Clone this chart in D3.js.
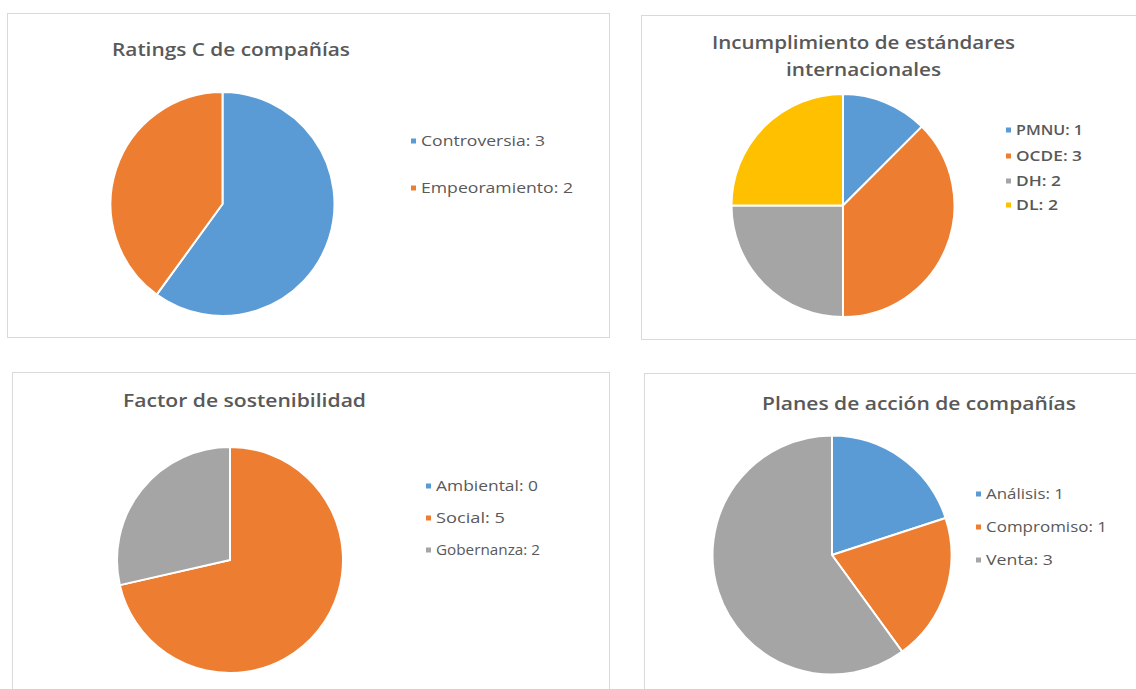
<!DOCTYPE html>
<html><head><meta charset="utf-8">
<script src="https://cdn.jsdelivr.net/npm/d3@7"></script>
<style>body{margin:0;background:#fff;}svg{display:block;}</style>
</head><body>
<svg id="c" width="1136" height="689"></svg>
<script>
// Chart 1
const ratingsLabels = ["Controversia", "Empeoramiento"];
const ratingsValues = [3, 2];
// Chart 2
const estandaresLabels = ["PMNU", "OCDE", "DH", "DL"];
const estandaresValues = [1, 3, 2, 2];
// Chart 3
const factorLabels = ["Ambiental", "Social", "Gobernanza"];
const factorValues = [0, 5, 2];
// Chart 4
const planesLabels = ["Análisis", "Compromiso", "Venta"];
const planesValues = [1, 1, 3];

const titles = [
  ["Ratings C de compañías"],
  ["Incumplimiento de estándares", "internacionales"],
  ["Factor de sostenibilidad"],
  ["Planes de acción de compañías"]
];

const palette = ["#5B9BD5", "#ED7D31", "#A5A5A5", "#FFC000"];

const panels = [
  {labels: ratingsLabels, values: ratingsValues, title: titles[0],
   box: [7, 13, 602, 324], cx: 222.5, cy: 204, r: 112, tx: 231, ty: [56], tw: [238],
   lx: 411, ly: [141, 188], lw: [124, 152], lweight: 500},
  {labels: estandaresLabels, values: estandaresValues, title: titles[1],
   box: [641, 15, 520, 324], cx: 843, cy: 205.5, r: 111.5, tx: 863.5, ty: [49, 76], tw: [303, 155],
   lx: 1006, ly: [130, 156, 181, 205], lw: [67, 66, 45, 42], lweight: 600},
  {labels: factorLabels, values: factorValues, title: titles[2],
   box: [12, 372, 597, 340], cx: 230, cy: 560, r: 113, tx: 244.5, ty: [407], tw: [243],
   lx: 426, ly: [486, 518, 550], lw: [102, 69, 104], lweight: 500},
  {labels: planesLabels, values: planesValues, title: titles[3],
   box: [644, 373, 520, 340], cx: 832, cy: 555, r: 119.5, tx: 919, ty: [410], tw: [314],
   lx: 976, ly: [494, 527, 560], lw: [78, 121, 67], lweight: 500}
];

const svg = d3.select("#c");
const pie = d3.pie().sort(null).value(d => d);
const font = "'Open Sans', Roboto, sans-serif";

panels.forEach(p => {
  const g = svg.append("g");
  g.append("rect")
    .attr("x", p.box[0] + 0.5).attr("y", p.box[1] + 0.5)
    .attr("width", p.box[2]).attr("height", p.box[3])
    .attr("fill", "#fff").attr("stroke", "#d9d9d9").attr("stroke-width", 1);

  p.title.forEach((t, i) => {
    g.append("text").attr("x", p.tx).attr("y", p.ty[i])
      .attr("text-anchor", "middle")
      .attr("font-family", font)
      .attr("font-weight", 600)
      .attr("font-size", 18)
      .attr("textLength", p.tw[i]).attr("lengthAdjust", "spacingAndGlyphs")
      .attr("fill", "#595959").text(t);
  });

  const color = d3.scaleOrdinal().domain(p.labels).range(palette);
  const arc = d3.arc().innerRadius(0).outerRadius(p.r);
  const pg = g.append("g").attr("transform", `translate(${p.cx},${p.cy})`);
  pg.selectAll("path").data(pie(p.values)).join("path")
    .attr("d", arc)
    .attr("fill", (d, i) => color(p.labels[i]))
    .attr("stroke", "#fff").attr("stroke-width", 2).attr("stroke-linejoin", "round");

  const lg = g.append("g");
  p.labels.forEach((l, i) => {
    lg.append("rect").attr("x", p.lx).attr("y", p.ly[i] - 2.5)
      .attr("width", 5).attr("height", 5).attr("fill", color(l));
    lg.append("text").attr("x", p.lx + 10).attr("y", p.ly[i])
      .attr("dy", "0.35em")
      .attr("font-family", font)
      .attr("font-weight", p.lweight)
      .attr("font-size", 15)
      .attr("textLength", p.lw[i]).attr("lengthAdjust", "spacingAndGlyphs")
      .attr("fill", "#595959")
      .text(`${l}: ${p.values[i]}`);
  });
});
</script>
</body></html>
